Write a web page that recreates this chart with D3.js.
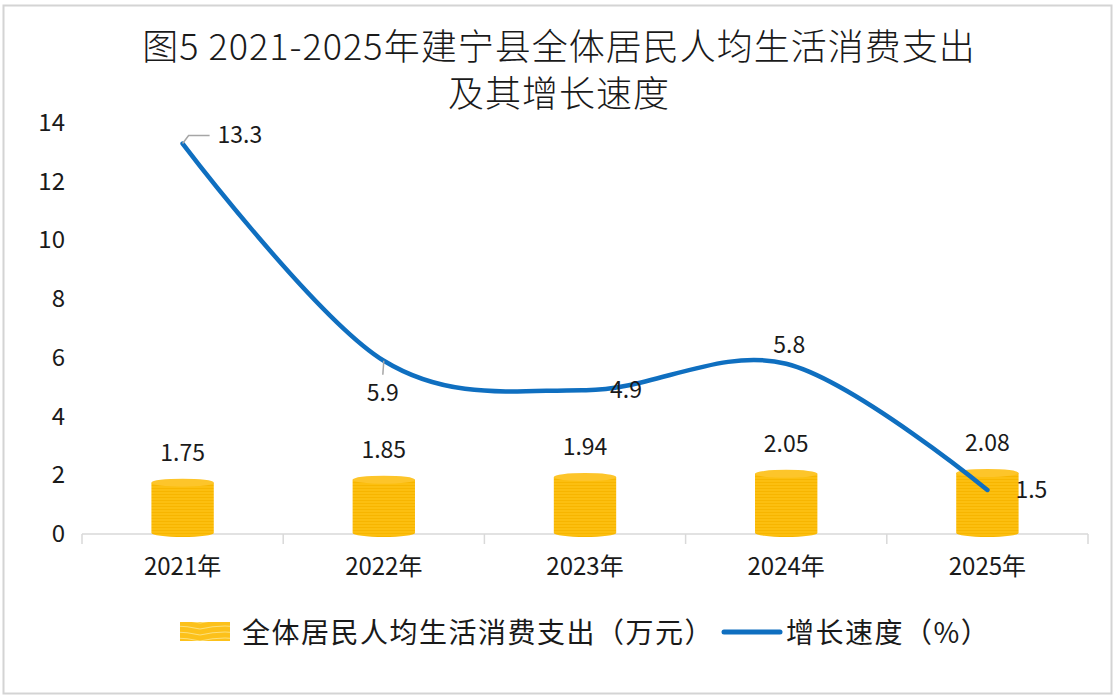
<!DOCTYPE html>
<html>
<head>
    <meta charset="utf-8" />
    <title>建宁县全体居民人均生活消费支出</title>
    <script src="https://d3js.org/d3.v7.min.js"></script>
    <style>
        body { margin: 0; background: #fff; }
        svg { display: block; }
        text { font-family: "Noto Sans CJK SC", "Noto Sans", sans-serif; fill: #1a1a1a; }
    </style>
</head>
<body>

<svg id="svg"></svg>

<script>

// data
let years = ["2021年", "2022年", "2023年", "2024年", "2025年"];
let spending = [1.75, 1.85, 1.94, 2.05, 2.08];   // 万元
let growth = [13.3, 5.9, 4.9, 5.8, 1.5];         // %
let yTicks = [0, 2, 4, 6, 8, 10, 12, 14];
let titleLines = ["图5 2021-2025年建宁县全体居民人均生活消费支出", "及其增长速度"];
let legendNames = ["全体居民人均生活消费支出（万元）", "增长速度（%）"];

// where each growth label sits, relative to its point
let growthLabelPos = [
    { dx: 35, dy: -1, anchor: "start", leader: true },
    { dx: -1, dy: 40, anchor: "middle", leader: true },
    { dx: 41, dy: 8, anchor: "middle", leader: false },
    { dx: 3, dy: -11, anchor: "middle", leader: false },
    { dx: 28, dy: 8, anchor: "start", leader: false }
];

let W = 1114;
let H = 697;

let svg = d3.select("#svg")
    .attr("width", W)
    .attr("height", H);

// outer frame
svg.append("rect")
    .attr("x", 3.5).attr("y", 5.5)
    .attr("width", 1108).attr("height", 688)
    .attr("fill", "#fff")
    .attr("stroke", "#d4d4d4")
    .attr("stroke-width", 2);

// stripe texture for the cylinders
let defs = svg.append("defs");
let pat = defs.append("pattern")
    .attr("id", "gold")
    .attr("patternUnits", "userSpaceOnUse")
    .attr("width", 8).attr("height", 3);
pat.append("rect").attr("width", 8).attr("height", 3).attr("fill", "#fcbf10");
pat.append("rect").attr("y", 2).attr("width", 8).attr("height", 1).attr("fill", "#f7b500");

let legPat = defs.append("pattern")
    .attr("id", "goldLegend")
    .attr("patternUnits", "userSpaceOnUse")
    .attr("width", 50).attr("height", 6);
legPat.append("rect").attr("width", 50).attr("height", 6).attr("fill", "#fcc11a");
legPat.append("path")
    .attr("d", "M0,5 Q25,-1 50,5")
    .attr("fill", "none")
    .attr("stroke", "#fde07a")
    .attr("stroke-width", 1.2);

// title
svg.selectAll(".title")
    .data(titleLines)
    .enter()
    .append("text")
    .attr("class", "title")
    .attr("x", 559)
    .attr("y", (d, i) => 60 + i * 47)
    .attr("text-anchor", "middle")
    .style("font-size", "36px")
    .style("font-weight", 300)
    .style("letter-spacing", "1px")
    .text(d => d);

let x = d3.scaleBand()
    .domain(years)
    .range([82, 1088]);

let y = d3.scaleLinear()
    .domain([0, 14])
    .range([534, 123]);

// y axis labels, no line
svg.selectAll(".ytick")
    .data(yTicks)
    .enter()
    .append("text")
    .attr("class", "ytick")
    .attr("x", 65)
    .attr("y", d => y(d) + 8)
    .attr("text-anchor", "end")
    .style("font-size", "24px")
    .text(d => d);

// x axis
let xAxis = svg.append("g")
    .attr("transform", "translate(0," + y(0) + ")");

xAxis.append("line")
    .attr("x1", x.range()[0]).attr("x2", x.range()[1])
    .attr("stroke", "#d9d9d9")
    .attr("stroke-width", 1.5);

let bounds = years.map(d => x(d)).concat([x.range()[1]]);
xAxis.selectAll(".xtickmark")
    .data(bounds)
    .enter()
    .append("line")
    .attr("x1", d => d).attr("x2", d => d)
    .attr("y1", 0).attr("y2", 10)
    .attr("stroke", "#d9d9d9")
    .attr("stroke-width", 1.5);

xAxis.selectAll(".xtick")
    .data(years)
    .enter()
    .append("text")
    .attr("x", d => x(d) + x.bandwidth() / 2)
    .attr("y", 41)
    .attr("text-anchor", "middle")
    .style("font-size", "24px")
    .text(d => d);

// cylinders
let barW = x.bandwidth() * 0.31;
let ry = 4;

let bars = svg.selectAll(".bar")
    .data(spending)
    .enter()
    .append("g")
    .attr("class", "bar");

bars.append("path")
    .attr("d", (d, i) => {
        let cx = x(years[i]) + x.bandwidth() / 2;
        let x0 = cx - barW / 2, x1 = cx + barW / 2;
        let top = y(d), bot = y(0) - 1;
        return "M" + x0 + "," + top +
            "L" + x0 + "," + bot +
            "A" + (barW / 2) + "," + ry + " 0 0 0 " + x1 + "," + bot +
            "L" + x1 + "," + top + "Z";
    })
    .attr("fill", "url(#gold)");

bars.append("ellipse")
    .attr("cx", (d, i) => x(years[i]) + x.bandwidth() / 2)
    .attr("cy", d => y(d))
    .attr("rx", barW / 2)
    .attr("ry", ry)
    .attr("fill", "#fdc52a");

bars.append("text")
    .attr("x", (d, i) => x(years[i]) + x.bandwidth() / 2)
    .attr("y", d => y(d) - 22)
    .attr("text-anchor", "middle")
    .style("font-size", "23px")
    .text(d => d.toFixed(2));

// growth line
let pts = growth.map((d, i) => [x(years[i]) + x.bandwidth() / 2, y(d)]);

let line = d3.line().curve(d3.curveCardinal.tension(0));

svg.append("path")
    .attr("d", line(pts))
    .attr("fill", "none")
    .attr("stroke", "#0f6fc0")
    .attr("stroke-width", 4.5)
    .attr("stroke-linecap", "round");

// leader lines
svg.selectAll(".leader")
    .data(growth.map((d, i) => i).filter(i => growthLabelPos[i].leader))
    .enter()
    .append("polyline")
    .attr("points", i => {
        let p = pts[i];
        if (i == 0) {
            return [p[0], p[1], p[0] + 6, p[1] - 8, p[0] + 27, p[1] - 8].join(",");
        }
        return [p[0], p[1], p[0] - 1, p[1] + 14].join(",");
    })
    .attr("fill", "none")
    .attr("stroke", "#a6a6a6")
    .attr("stroke-width", 1.5);

svg.selectAll(".glabel")
    .data(growth)
    .enter()
    .append("text")
    .attr("x", (d, i) => pts[i][0] + growthLabelPos[i].dx)
    .attr("y", (d, i) => pts[i][1] + growthLabelPos[i].dy)
    .attr("text-anchor", (d, i) => growthLabelPos[i].anchor)
    .style("font-size", "23px")
    .text(d => d);

// legend
let leg = svg.append("g");

leg.append("rect")
    .attr("x", 180).attr("y", 622)
    .attr("width", 50).attr("height", 19)
    .attr("fill", "url(#goldLegend)");

leg.append("text")
    .attr("x", 242).attr("y", 643)
    .style("font-size", "28px")
    .style("letter-spacing", "1.5px")
    .text(legendNames[0]);

leg.append("line")
    .attr("x1", 724).attr("x2", 780)
    .attr("y1", 632).attr("y2", 632)
    .attr("stroke", "#0f6fc0")
    .attr("stroke-width", 5)
    .attr("stroke-linecap", "round");

leg.append("text")
    .attr("x", 786).attr("y", 643)
    .style("font-size", "28px")
    .style("letter-spacing", "1.5px")
    .text(legendNames[1]);

</script>

</body>
</html>
